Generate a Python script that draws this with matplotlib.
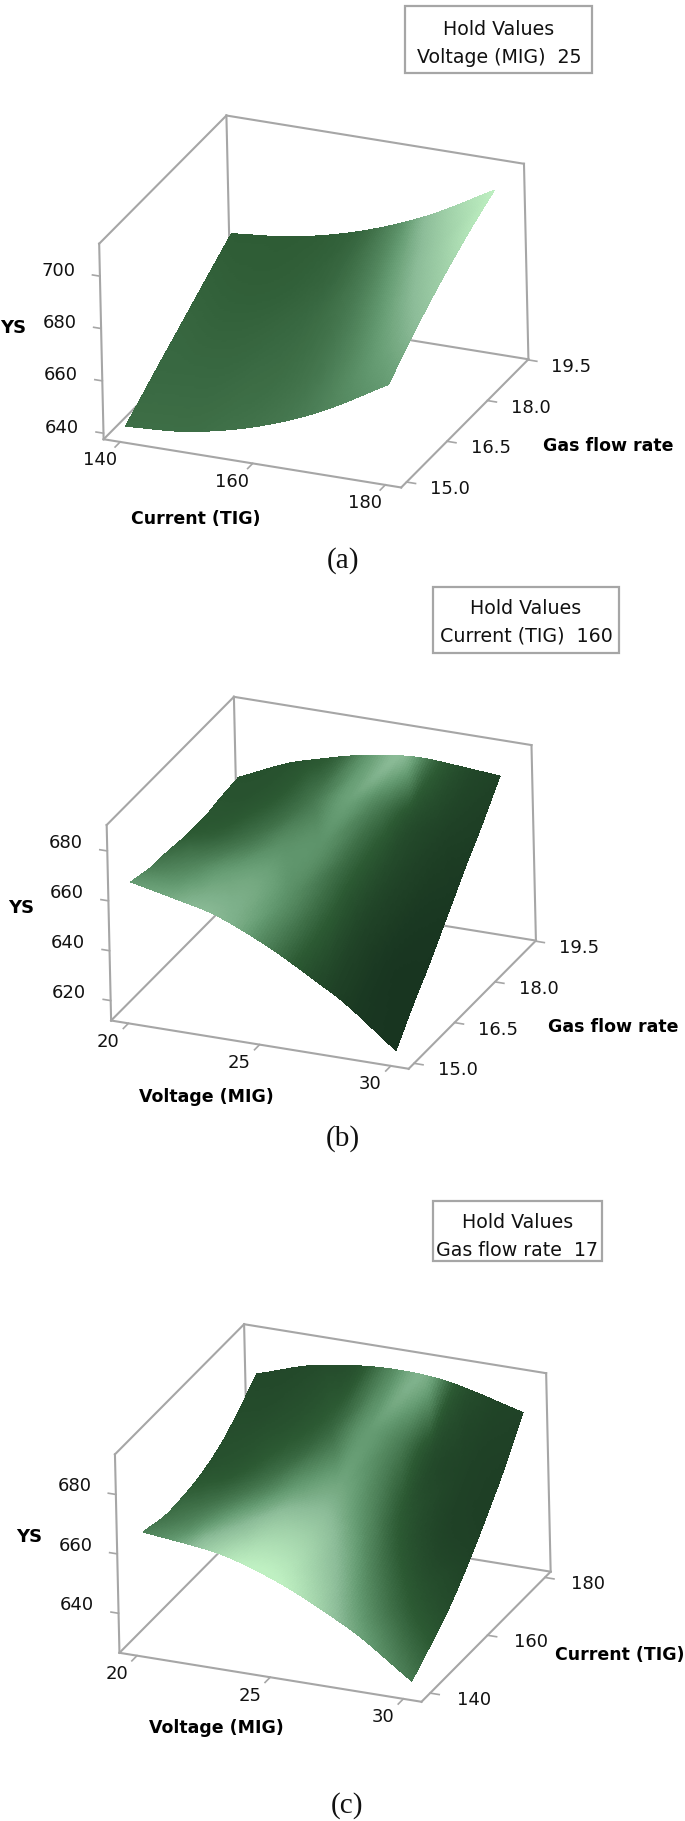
import numpy as np
import matplotlib
matplotlib.use('Agg')
import matplotlib.pyplot as plt
import matplotlib.tri as mtri
from matplotlib.colors import LinearSegmentedColormap
from matplotlib.patches import Rectangle
from mpl_toolkits.mplot3d import proj3d

# Values. Rows run along the second axis, columns along the first.
current = [140, 150, 160, 170, 180]
voltage = [20, 22.5, 25, 27.5, 30]
gas_flow = [15, 16, 17, 18, 19]

ys_a = [[641.6, 643.7, 649.8, 659.9, 674.0],
        [649.8, 652.4, 659.1, 669.6, 684.1],
        [657.8, 660.8, 667.7, 678.4, 692.9],
        [665.8, 668.8, 675.7, 686.2, 700.4],
        [673.7, 676.6, 683.0, 693.0, 706.7]]
ys_b = [[666.5, 660.8, 650.5, 635.6, 616.0],
        [664.1, 663.0, 657.4, 647.2, 632.4],
        [663.0, 666.3, 665.0, 659.3, 649.0],
        [663.3, 670.5, 673.3, 671.7, 665.7],
        [665.0, 675.8, 682.3, 684.5, 682.5]]
ys_c = [[665.4, 662.8, 656.0, 645.0, 629.7],
        [663.4, 663.4, 659.2, 650.8, 638.2],
        [665.1, 667.5, 665.7, 659.7, 649.6],
        [670.5, 675.2, 675.6, 671.8, 664.0],
        [679.7, 686.3, 688.7, 687.0, 681.2]]

# Brightness of the surface, same rows, nine columns along the first axis
shade_a = [[.33, .33, .33, .34, .35, .37, .41, .46, .52],
           [.31, .31, .31, .32, .33, .36, .43, .53, .65],
           [.30, .29, .29, .30, .32, .37, .48, .63, .78],
           [.28, .27, .27, .28, .31, .40, .56, .74, .92],
           [.26, .26, .26, .27, .31, .45, .68, .86, 1.0]]
shade_b = [[.50, .55, .63, .60, .42, .24, .12, .07, .06],
           [.36, .42, .52, .56, .45, .28, .13, .07, .06],
           [.26, .28, .35, .46, .47, .30, .16, .09, .07],
           [.22, .22, .26, .36, .52, .38, .20, .12, .09],
           [.20, .20, .22, .28, .50, .64, .30, .16, .12]]
shade_c = [[.40, .52, .78, .98, 1.0, .84, .60, .46, .36],
           [.32, .40, .58, .78, .80, .62, .40, .26, .20],
           [.22, .25, .34, .50, .58, .44, .24, .14, .12],
           [.18, .19, .22, .30, .50, .40, .18, .12, .10],
           [.15, .15, .17, .20, .42, .60, .24, .14, .12]]

current_ticks = [140, 160, 180]
voltage_ticks = [20, 25, 30]
gas_ticks = [15.0, 16.5, 18.0, 19.5]
ys_ticks_a = [640, 660, 680, 700]
ys_ticks_b = [620, 640, 660, 680]
ys_ticks_c = [640, 660, 680]

LINE = '#a6a6a6'
INK = '#111111'
greens = LinearSegmentedColormap.from_list('greens3d', [
    (0.0, '#10261a'), (0.1, '#1e3f25'), (0.25, '#2c5a33'), (0.5, '#639a70'),
    (0.65, '#8cbc98'), (1.0, '#bff0c2')])

W_PX, H_PX = 685, 1821
fig = plt.figure(figsize=(W_PX / 100, H_PX / 100), dpi=100)
overlay = fig.add_axes([0, 0, 1, 1])
overlay.set_xlim(0, W_PX)
overlay.set_ylim(H_PX, 0)
overlay.axis('off')


def refine(xs, ys, table, X, Y):
    # smooth the read grid for drawing, the mesh itself is only a few cells
    gx, gy = np.meshgrid(xs, ys)
    grid = mtri.Triangulation(gx.ravel() / np.ptp(xs), gy.ravel() / np.ptp(ys))
    interp = mtri.CubicTriInterpolator(grid, np.ravel(table), kind='geom')
    return np.ma.filled(interp(X / np.ptp(xs), Y / np.ptp(ys)), np.nan)


def draw_panel(xs, ys, table, shade, lims, ticks, tick_fmt, center, size, zoom, z_label_dy):
    xlim, ylim, zlim = lims
    left = (center[0] - 0.95 / 1.85 * size) / W_PX
    bottom = (H_PX - center[1] - 0.95 / 1.85 * size) / H_PX
    ax = fig.add_axes([left, bottom, size / W_PX, size / H_PX], projection='3d')
    ax.set_proj_type('ortho')
    ax.view_init(elev=25, azim=-66.3, roll=1.3)
    ax.set_box_aspect((1.5, 1.5, 1), zoom=zoom)
    ax.set_xlim(*xlim)
    ax.set_ylim(*ylim)
    ax.set_zlim(*zlim)
    ax.set_axis_off()
    ax.patch.set_visible(False)
    ax.computed_zorder = False

    x0, x1 = xlim
    y0, y1 = ylim
    z0, z1 = zlim
    edges = [((x0, x1), (y0, y0), (z0, z0)), ((x1, x1), (y0, y1), (z0, z0)),
             ((x0, x1), (y1, y1), (z0, z0)), ((x0, x0), (y0, y1), (z0, z0)),
             ((x0, x0), (y0, y0), (z0, z1)), ((x0, x0), (y1, y1), (z0, z1)),
             ((x1, x1), (y1, y1), (z0, z1)), ((x0, x0), (y0, y1), (z1, z1)),
             ((x0, x1), (y1, y1), (z1, z1))]
    for ex, ey, ez in edges:
        ax.plot(ex, ey, ez, color=LINE, lw=1.5, zorder=1)

    fx = np.linspace(xs[0], xs[-1], 110)
    fy = np.linspace(ys[0], ys[-1], 110)
    X, Y = np.meshgrid(fx, fy)
    Z = refine(xs, ys, table, X, Y)
    shade_x = np.linspace(xs[0], xs[-1], len(shade[0]))
    T = refine(shade_x, ys, shade, X, Y)
    ax.plot_surface(X, Y, Z, facecolors=greens(np.clip(T, 0, 1)), rstride=1, cstride=1,
                    shade=False, linewidth=0, antialiased=False, zorder=2)

    M = ax.get_proj()
    dx, dy = x1 - x0, y1 - y0

    def label(x, y, z, off, text):
        px, py, _ = proj3d.proj_transform(x, y, z, M)
        ax.annotate(text, (px, py), xytext=off, textcoords='offset pixels', ha='center',
                    va='center', fontsize=13, color=INK, annotation_clip=False)

    for t in ticks[0]:
        ax.plot((t, t), (y0, y0 - 0.04 * dy), (z0, z0), color=LINE, lw=1.2, zorder=1)
        label(t, y0, z0, (-20.5, -18.5), str(t))
    for t in ticks[1]:
        ax.plot((x1, x1 + 0.03 * dx), (t, t), (z0, z0), color=LINE, lw=1.2, zorder=1)
        label(x1, t, z0, (43.5, -7), tick_fmt % t)
    for t in ticks[2]:
        ax.plot((x0, x0 - 0.025 * dx), (y0, y0), (t, t), color=LINE, lw=1.2, zorder=1)
        label(x0, y0, t, (-41.5, z_label_dy), str(t))
    return ax


def hold_box(x0, y0, x1, y1, line1, line2):
    overlay.add_patch(Rectangle((x0, y0), x1 - x0, y1 - y0, fill=False, ec=LINE, lw=1.6))
    cx = (x0 + x1) / 2
    overlay.text(cx, line1[0], 'Hold Values', ha='center', va='center', fontsize=13.7, color=INK)
    overlay.text(cx, line2[0], line2[1], ha='center', va='center', fontsize=13.7, color=INK)


def axis_title(x, y, text, size=12.5):
    overlay.text(x, y, text, ha='center', va='center', fontsize=size, fontweight='bold', color='black')


def caption(x, y, text):
    overlay.text(x, y, text, ha='center', va='center', fontsize=21, family='Liberation Serif', color=INK)


# (a)
draw_panel(current, gas_flow, ys_a, shade_a,
           ((137.5, 182.4), (14.8, 19.52), (637.7, 712.4)),
           (current_ticks, gas_ticks, ys_ticks_a), '%.1f', (313.8, 301.5), 491.3, 1.0, 5.5)
hold_box(405.3, 5.5, 592.5, 73, (29.6,), (57.4, 'Voltage (MIG)  25'))
axis_title(195.5, 519, 'Current (TIG)')
axis_title(607.8, 445.6, 'Gas flow rate')
axis_title(13, 327.8, 'YS', 13)
caption(343, 561, '(a)')

# (b)
draw_panel(voltage, gas_flow, ys_b, shade_b,
           ((19.34, 30.68), (14.8, 19.52), (612, 690.4)),
           (voltage_ticks, gas_ticks, ys_ticks_b), '%.1f', (321.3, 882.8), 491.3, 1.0, 8)
hold_box(433.3, 586.5, 618.7, 652.7, (608.7,), (635.9, 'Current (TIG)  160'))
axis_title(206, 1097.4, 'Voltage (MIG)')
axis_title(613.5, 1026.6, 'Gas flow rate')
axis_title(21, 908.4, 'YS', 13)
caption(343, 1138.7, '(b)')

# (c)
draw_panel(voltage, current, ys_c, shade_c,
           ((19.34, 30.68), (137, 182), (626.7, 693.5)),
           (voltage_ticks, current_ticks, ys_ticks_c), '%d', (332.8, 1513), 498.7, 1.0, 8)
hold_box(432.8, 1201.3, 601.7, 1261.2, (1223,), (1250.4, 'Gas flow rate  17'))
axis_title(216.2, 1728, 'Voltage (MIG)')
axis_title(619.3, 1654.8, 'Current (TIG)')
axis_title(29.3, 1537.3, 'YS', 13)
caption(347, 1805.7, '(c)')

fig.savefig('out.png', dpi=100)
